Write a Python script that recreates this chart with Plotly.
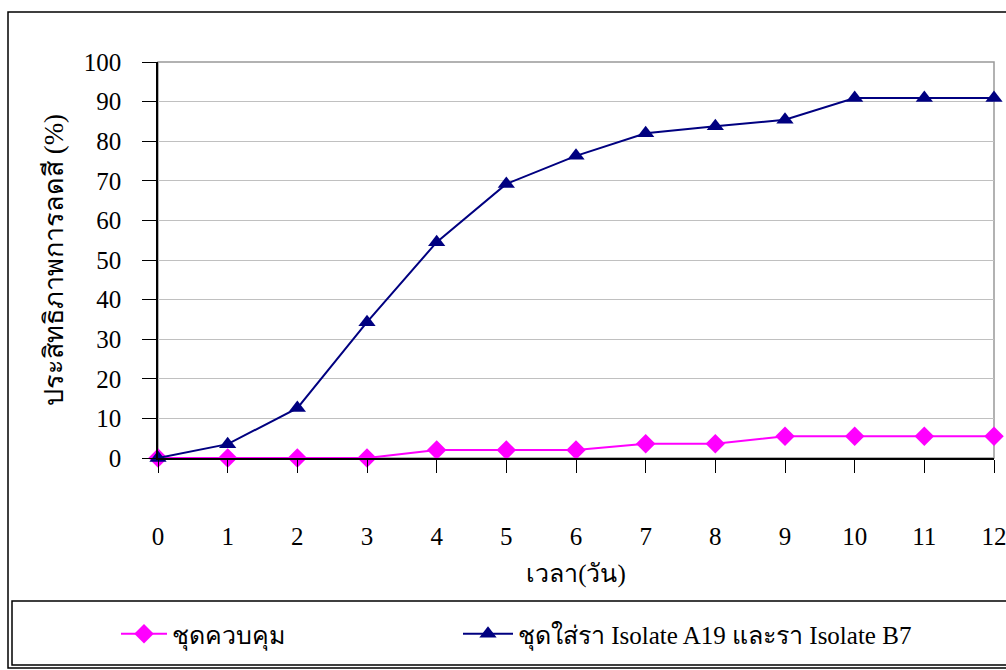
import plotly.graph_objects as go

days = [0, 1, 2, 3, 4, 5, 6, 7, 8, 9, 10, 11, 12]
control = [0, 0, 0, 0, 2.0, 2.0, 2.0, 3.6, 3.6, 5.5, 5.5, 5.5, 5.5]
treated = [0, 3.5, 12.6, 34.3, 54.5, 69.2, 76.3, 82.0, 83.8, 85.4, 90.9, 90.9, 90.9]
y_ticks = list(range(0, 101, 10))

name_control = "ชุดควบคุม"
name_treated = "ชุดใส่รา Isolate A19 และรา Isolate B7"
x_title = "เวลา(วัน)"
y_title = "ประสิทธิภาพการลดสี (%)"

W, H = 1006, 670
L, R, T, B = 158, 12, 62, 212
PW, PH = W - L - R, H - T - B


def px(x):
    return (x - L) / PW


def py(y):
    return (H - B - y) / PH


FONT = "Liberation Serif, Times New Roman, serif"

fig = go.Figure()
fig.add_trace(go.Scatter(
    x=days, y=control, name=name_control, mode="lines+markers",
    line=dict(color="#FF00FF", width=2),
    marker=dict(symbol="diamond", size=15, color="#FF00FF"),
    cliponaxis=False, legend="legend",
))
fig.add_trace(go.Scatter(
    x=days, y=treated, name=name_treated, mode="lines+markers",
    line=dict(color="#000080", width=2),
    marker=dict(symbol="triangle-up", size=15, color="#000080"),
    cliponaxis=False, legend="legend2",
))

shapes = [
    # plot area frame (gray)
    dict(type="rect", xref="paper", yref="paper", x0=0, x1=1, y0=0, y1=1,
         line=dict(color="#999999", width=1.5), layer="below"),
    # outer chart border
    dict(type="rect", xref="paper", yref="paper", x0=px(8), x1=px(1012),
         y0=py(668), y1=py(12), line=dict(color="#000000", width=1.5)),
    # legend box
    dict(type="rect", xref="paper", yref="paper", x0=px(12), x1=px(1012),
         y0=py(665), y1=py(601), line=dict(color="#000000", width=1.5)),
]

legend_common = dict(
    orientation="h", yanchor="middle", xanchor="left",
    xref="paper", yref="paper",
    font=dict(family=FONT, size=25),
    bgcolor="rgba(0,0,0,0)", borderwidth=0,
)

fig.update_layout(
    width=W, height=H,
    margin=dict(l=L, r=R, t=T, b=B, autoexpand=False),
    paper_bgcolor="white", plot_bgcolor="white",
    font=dict(family=FONT, size=25, color="#000000"),
    shapes=shapes,
    showlegend=True,
    legend=dict(x=px(116), y=py(634), itemwidth=46, **legend_common),
    legend2=dict(x=px(458), y=py(634), itemwidth=50, **legend_common),
    xaxis=dict(
        range=[0, 12], tickvals=days, ticktext=[str(d) for d in days],
        showgrid=False, zeroline=False, automargin=False,
        showline=True, linecolor="#000000", linewidth=1.5,
        ticks="outside", ticklen=13, tickcolor="#000000", tickwidth=1,
        ticklabelstandoff=42, ticklabeloverflow="allow",
        title=dict(text=x_title, standoff=16, font=dict(size=25)),
        tickfont=dict(size=25),
    ),
    yaxis=dict(
        range=[0, 100], tickvals=y_ticks,
        showgrid=True, gridcolor="#C0C0C0", gridwidth=1,
        zeroline=False, automargin=False,
        showline=True, linecolor="#000000", linewidth=1.5,
        ticks="outside", ticklen=14, tickcolor="#000000", tickwidth=1,
        ticklabelstandoff=16,
        title=dict(text=y_title, standoff=12, font=dict(size=27)),
        tickfont=dict(size=25),
    ),
)

fig.write_html("out.html")
